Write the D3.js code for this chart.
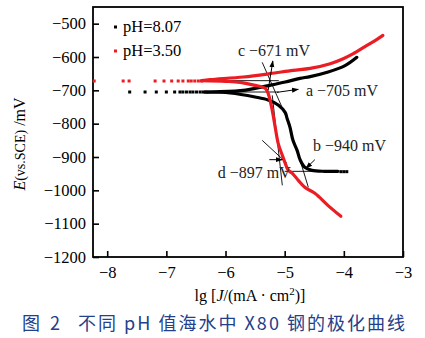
<!DOCTYPE html>
<html><head><meta charset="utf-8">
<script src="https://cdn.jsdelivr.net/npm/d3@7"></script>
<style>
body{margin:0;background:#fff;}
svg{display:block;}
text{font-family:"Liberation Serif","DejaVu Serif",serif;}
</style></head>
<body>
<svg id="c" width="425" height="338"></svg>
<script>
// ---- data ----
const xTicks = [-8, -7, -6, -5, -4, -3];
const yTicks = [-500, -600, -700, -800, -900, -1000, -1100, -1200];
const seriesNames = ["pH=8.07", "pH=3.50"];

// pH=8.07 (black)
const blackDots = [[-7.62,-705],[-7.36,-705],[-7.17,-705],[-7.00,-705],[-6.86,-705],[-6.77,-705],[-6.72,-705],[-6.66,-705],[-6.60,-705],[-6.55,-705],[-6.49,-705],[-6.43,-705],[-6.38,-705]];
const blackAnodic = [[-6.35,-705],[-6.26,-705],[-5.75,-701],[-5.50,-694],[-5.25,-685],[-4.99,-675],[-4.74,-664],[-4.57,-659],[-4.28,-646],[-3.98,-626],[-3.78,-601]];
const blackCathodic = [[-6.35,-705],[-5.92,-708],[-5.50,-720],[-5.28,-729],[-5.11,-744],[-4.99,-767],[-4.96,-784],[-4.91,-811],[-4.86,-850],[-4.79,-880],[-4.74,-908],[-4.66,-931],[-4.54,-940],[-4.32,-943],[-4.10,-943]];
const blackTailDots = [[-4.05,-944],[-4.00,-944],[-3.95,-944]];

// pH=3.50 (red)
const redDots = [[-8.22,-672],[-7.73,-672],[-7.63,-672],[-7.19,-672],[-7.04,-672],[-6.91,-672],[-6.80,-672],[-6.72,-672],[-6.63,-672],[-6.58,-672],[-6.52,-672],[-6.46,-672],[-6.41,-672]];
const redAnodic = [[-6.40,-671],[-6.26,-668],[-5.70,-660],[-5.25,-650],[-4.86,-640],[-4.57,-634],[-4.23,-620],[-4.01,-605],[-3.84,-590],[-3.61,-565],[-3.44,-547],[-3.34,-535]];
const redCathodic = [[-6.40,-671],[-6.00,-673],[-5.75,-676],[-5.50,-685],[-5.33,-694],[-5.28,-709],[-5.21,-760],[-5.16,-811],[-5.11,-859],[-5.04,-895],[-4.99,-919],[-4.94,-940],[-4.87,-949],[-4.77,-970],[-4.66,-991],[-4.49,-1009],[-4.27,-1045],[-4.05,-1078]];

// Tafel construction lines [x1,E1,x2,E2]
const tafelLines = [
  [-6.40,-671,-5.10,-671],
  [-5.90,-705,-5.10,-705],
  [-5.38,-616,-4.91,-805],
  [-5.21,-715,-5.04,-985],
  [-5.38,-850,-4.96,-919],
  [-5.00,-943,-4.20,-943],
  [-4.79,-880,-4.60,-991]
];
// arrows [fromX,fromE,toX,toE]
const arrows = [
  [-5.28,-700,-5.20,-612],
  [-5.13,-706,-4.77,-697],
  [-5.26,-908,-5.04,-908],
  [-4.49,-908,-4.64,-934]
];
const annoLabels = ["c \u2212671 mV","a \u2212705 mV","b \u2212940 mV","d \u2212897 mV"];
const annoPos = [[-5.79,-598],[-4.64,-717],[-4.52,-883],[-6.13,-963]];

// ---- chart ----
const svg = d3.select("#c");
const L=93, R=403, T=7, B=257;
const x = d3.scaleLinear().domain([-8.24,-3]).range([L,R]);
const y = d3.scaleLinear().domain([-1200,-450]).range([B,T]);
const red = "#ec1c24";

// axes
const gx = svg.append("g").attr("transform",`translate(0,${B})`)
  .call(d3.axisBottom(x).tickValues(xTicks).tickSizeInner(-6).tickSizeOuter(0).tickPadding(9).tickFormat(d3.format("d")));
const gy = svg.append("g").attr("transform",`translate(${L},0)`)
  .call(d3.axisLeft(y).tickValues(yTicks).tickSizeInner(-6).tickSizeOuter(0).tickPadding(7).tickFormat(d3.format("d")));
[gx,gy].forEach(g=>{
  g.attr("font-family",null);
  g.select(".domain").remove();
  g.selectAll(".tick line").attr("stroke","#000").attr("stroke-width",1.6);
  g.selectAll(".tick text").attr("fill","#000").style("font-size","16.5px").style("font-family","'Liberation Serif'");
});
svg.append("rect").attr("x",L).attr("y",T).attr("width",R-L).attr("height",B-T)
  .attr("fill","none").attr("stroke","#000").attr("stroke-width",1.8);

const lineC = d3.line().x(d=>x(d[0])).y(d=>y(d[1])).curve(d3.curveCatmullRom.alpha(0.5));

// tafel lines
svg.append("g").selectAll("line").data(tafelLines).join("line")
  .attr("x1",d=>x(d[0])).attr("y1",d=>y(d[1])).attr("x2",d=>x(d[2])).attr("y2",d=>y(d[3]))
  .attr("stroke","#000").attr("stroke-width",0.9);

// black series
const gB = svg.append("g");
gB.selectAll("rect.d").data(blackDots.concat(blackTailDots)).join("rect")
  .attr("x",d=>x(d[0])-1.5).attr("y",d=>y(d[1])-1.5).attr("width",3).attr("height",3).attr("fill","#000");
[blackAnodic,blackCathodic].forEach(s=>gB.append("path").attr("d",lineC(s)).attr("fill","none")
  .attr("stroke","#000").attr("stroke-width",3.2).attr("stroke-linejoin","round").attr("stroke-linecap","round"));

// red series
const gR = svg.append("g");
gR.selectAll("rect.d").data(redDots).join("rect")
  .attr("x",d=>x(d[0])-1.5).attr("y",d=>y(d[1])-1.5).attr("width",3).attr("height",3).attr("fill",red);
[redAnodic,redCathodic].forEach(s=>gR.append("path").attr("d",lineC(s)).attr("fill","none")
  .attr("stroke",red).attr("stroke-width",3.2).attr("stroke-linejoin","round").attr("stroke-linecap","round"));

// arrows
const defs = svg.append("defs");
defs.append("marker").attr("id","ah").attr("viewBox","0 0 10 10").attr("refX",9).attr("refY",5)
  .attr("markerWidth",7).attr("markerHeight",7).attr("orient","auto-start-reverse")
  .append("path").attr("d","M0,1.5 L10,5 L0,8.5 Z").attr("fill","#000");
svg.append("g").selectAll("line").data(arrows).join("line")
  .attr("x1",d=>x(d[0])).attr("y1",d=>y(d[1])).attr("x2",d=>x(d[2])).attr("y2",d=>y(d[3]))
  .attr("stroke","#000").attr("stroke-width",1).attr("marker-end","url(#ah)");

// annotation labels
svg.append("g").selectAll("text").data(annoLabels).join("text")
  .attr("x",(d,i)=>x(annoPos[i][0])).attr("y",(d,i)=>y(annoPos[i][1]))
  .style("font-size","16px").attr("fill","#222").text(d=>d);

// legend
const leg = svg.append("g");
seriesNames.forEach((n,i)=>{
  const yy = 27 + i*24;
  leg.append("rect").attr("x",114).attr("y",yy-1.5).attr("width",3).attr("height",3).attr("fill",i===0?"#000":red);
  leg.append("text").attr("x",123).attr("y",yy+5).style("font-size","16.5px").attr("fill","#000").text(n);
});

// axis titles
const yt = svg.append("text").attr("transform","translate(25,144) rotate(-90)").attr("text-anchor","middle").style("font-size","16px");
yt.append("tspan").style("font-style","italic").text("E");
yt.append("tspan").style("font-size","14px").text("(vs.SCE)");
yt.append("tspan").text(" /mV");

const xt = svg.append("text").attr("x",250).attr("y",301).attr("text-anchor","middle").style("font-size","16px");
xt.append("tspan").text("lg [");
xt.append("tspan").style("font-style","italic").text("J");
xt.append("tspan").text("/(mA \u00b7 cm");
xt.append("tspan").attr("dy",-6).style("font-size","11px").text("2");
xt.append("tspan").attr("dy",6).text(")]");

// caption
const capColor = "#24408a";
svg.append("text").attr("x",22).attr("y",330).style("font-family","'Noto Sans CJK SC'").style("font-size","18px").attr("fill",capColor)
  .attr("textLength",38).attr("lengthAdjust","spacing").text("图 2");
svg.append("text").attr("x",78).attr("y",330).style("font-family","'Noto Sans CJK SC'").style("font-size","18px").attr("fill",capColor)
  .attr("textLength",327).attr("lengthAdjust","spacing").text("不同 pH 值海水中 X80 钢的极化曲线");
</script>
</body></html>
